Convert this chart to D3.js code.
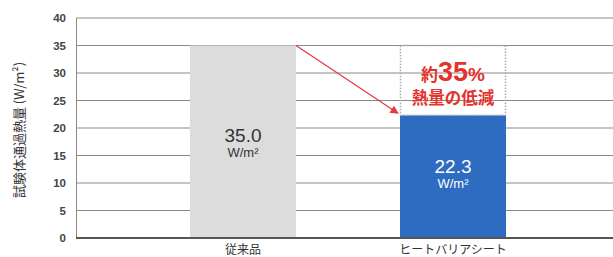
<!DOCTYPE html>
<html>
<head>
    <meta charset="utf-8">
    <script src="https://d3js.org/d3.v7.min.js"></script>
    <style>
        body { margin: 0; background: #fff; }
        text { font-family: "Noto Sans CJK JP", "Noto Sans", sans-serif; }
    </style>
</head>
<body>
    <svg width="613" height="257"></svg>
    <script>
        var categories = ["従来品", "ヒートバリアシート"];
        var values = [35.0, 22.3];
        var valueLabels = ["35.0", "22.3"];
        var yTicks = [0, 5, 10, 15, 20, 25, 30, 35, 40];

        var svg = d3.select("svg"),
            width = +svg.attr("width"),
            height = +svg.attr("height");
        var margin = {top: 18, right: 0, bottom: 19, left: 76};

        // bar centres
        var xc = d3.scalePoint().domain(categories).range([243, 453]);
        var barW = 106;
        var y = d3.scaleLinear().domain([0, 40]).range([height - margin.bottom, margin.top]);

        // grid lines
        svg.append("g").selectAll("line").data(yTicks.filter(function(d) { return d > 0; })).enter()
            .append("line")
            .attr("x1", margin.left).attr("x2", width)
            .attr("y1", function(d) { return y(d); }).attr("y2", function(d) { return y(d); })
            .attr("stroke", "#8a8a8a").attr("stroke-width", 1);

        // y axis
        var yAxis = svg.append("g").attr("transform", "translate(" + margin.left + ",0)")
            .call(d3.axisLeft(y).tickValues(yTicks).tickSize(0).tickPadding(10));
        yAxis.select(".domain").attr("stroke", "#888");
        yAxis.selectAll("text").attr("font-size", 11.5).attr("fill", "#444").attr("font-weight", "bold")
            .style("font-family", "Liberation Sans, Arial, sans-serif");

        // bars
        var colors = ["#dcdcdc", "#2e6cc2"];
        svg.append("g").selectAll("rect").data(values).enter()
            .append("rect")
            .attr("x", function(d, i) { return xc(categories[i]) - barW / 2; })
            .attr("y", function(d) { return y(d); })
            .attr("width", barW)
            .attr("height", function(d) { return y(0) - y(d); })
            .attr("fill", function(d, i) { return colors[i]; });

        // dotted reduction box
        svg.append("rect")
            .attr("x", xc(categories[1]) - barW / 2 + 0.5)
            .attr("y", y(values[0]))
            .attr("width", barW - 1)
            .attr("height", y(values[1]) - y(values[0]))
            .attr("fill", "none")
            .attr("stroke", "#aaa")
            .attr("stroke-width", 1.5)
            .attr("stroke-dasharray", "1.5,1.5");

        // x axis
        svg.append("line")
            .attr("x1", margin.left).attr("x2", width)
            .attr("y1", y(0)).attr("y2", y(0))
            .attr("stroke", "#555").attr("stroke-width", 2);

        svg.append("g").selectAll("text").data(categories).enter()
            .append("text")
            .attr("x", function(d) { return xc(d); })
            .attr("y", 254)
            .attr("text-anchor", "middle")
            .attr("font-size", 12)
            .attr("fill", "#333")
            .text(function(d) { return d; });

        // value labels
        var labelColors = ["#333", "#fff"];
        var labelY = [142, 173];
        valueLabels.forEach(function(v, i) {
            var cx = xc(categories[i]);
            svg.append("text").attr("x", cx).attr("y", labelY[i])
                .attr("text-anchor", "middle").attr("font-size", 19)
                .attr("fill", labelColors[i])
                .style("font-family", "Liberation Sans, Arial, sans-serif")
                .text(v);
            svg.append("text").attr("x", cx).attr("y", labelY[i] + 15)
                .attr("text-anchor", "middle").attr("font-size", 13)
                .attr("fill", labelColors[i])
                .style("font-family", "Liberation Sans, Arial, sans-serif")
                .text("W/m²");
        });

        // arrow
        var defs = svg.append("defs");
        defs.append("marker").attr("id", "ah")
            .attr("viewBox", "0 0 10 10").attr("refX", 9).attr("refY", 5)
            .attr("markerWidth", 7).attr("markerHeight", 7).attr("orient", "auto")
            .append("path").attr("d", "M0,0 L10,5 L0,10 z").attr("fill", "#e23a3a");
        svg.append("line")
            .attr("x1", xc(categories[0]) + barW / 2).attr("y1", y(values[0]))
            .attr("x2", xc(categories[1]) - barW / 2 - 2).attr("y2", y(values[1]) - 2)
            .attr("stroke", "#e23a3a").attr("stroke-width", 1.2)
            .attr("marker-end", "url(#ah)");

        // annotation
        var red = "#e5322d";
        var cx1 = xc(categories[1]);
        var t1 = svg.append("text").attr("x", cx1).attr("y", 81)
            .attr("text-anchor", "middle").attr("fill", red).attr("font-weight", "bold");
        t1.append("tspan").attr("font-size", 17).text("約");
        t1.append("tspan").attr("font-size", 27).style("font-family", "Liberation Sans, Arial, sans-serif").text("35");
        t1.append("tspan").attr("font-size", 19).style("font-family", "Liberation Sans, Arial, sans-serif").text("%");
        svg.append("text").attr("x", cx1).attr("y", 104)
            .attr("text-anchor", "middle").attr("fill", red).attr("font-weight", "bold")
            .attr("font-size", 16.5).text("熱量の低減");

        // y axis title
        svg.append("text")
            .attr("transform", "translate(24," + ((margin.top + y(0)) / 2 + 2) + ") rotate(-90)")
            .attr("text-anchor", "middle")
            .attr("font-size", 13)
            .attr("fill", "#333")
            .text("試験体通過熱量 (W/m²)");
    </script>
</body>
</html>
